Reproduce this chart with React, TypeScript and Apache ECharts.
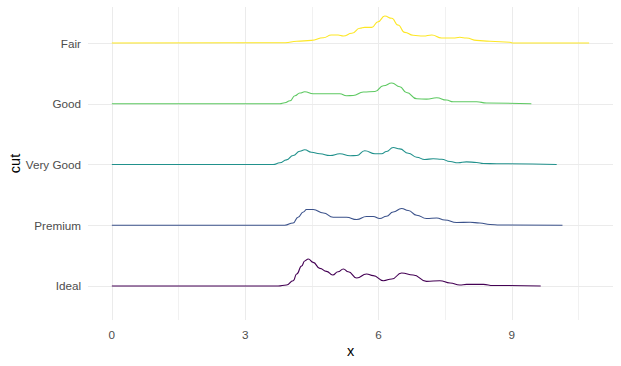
import React, { useEffect, useRef } from "react";
import * as echarts from "echarts";

// Categories from bottom (1) to top (5)
const cuts = ["Ideal", "Premium", "Very Good", "Good", "Fair"];
const colors = ["#440154", "#3B528B", "#21918C", "#5EC962", "#FDE725"];

// Ridge outlines: x values and ridge heights (in category-spacing units)
const idealX = [0, 3.74, 3.93, 4.08, 4.16, 4.27, 4.34, 4.42, 4.53, 4.68, 4.83, 4.97, 5.09, 5.21, 5.32, 5.51, 5.73, 5.88, 6.11, 6.3, 6.52, 6.78, 7.08, 7.38, 7.61, 7.83, 7.98, 8.36, 8.58, 8.73, 9.65];
const idealH = [0, 0, 0.016, 0.087, 0.198, 0.329, 0.412, 0.444, 0.389, 0.29, 0.24, 0.181, 0.235, 0.28, 0.235, 0.132, 0.198, 0.17, 0.087, 0.115, 0.214, 0.181, 0.076, 0.087, 0.049, 0.016, 0.026, 0.026, 0.008, 0.008, 0];

const premiumX = [0, 3.89, 4.08, 4.19, 4.31, 4.38, 4.53, 4.76, 4.98, 5.28, 5.51, 5.73, 5.88, 6.03, 6.18, 6.33, 6.52, 6.67, 6.86, 7.08, 7.31, 7.49, 7.76, 8.06, 8.28, 8.51, 8.73, 10.14];
const premiumH = [0, 0, 0.038, 0.132, 0.219, 0.258, 0.258, 0.202, 0.132, 0.132, 0.094, 0.143, 0.143, 0.11, 0.148, 0.219, 0.275, 0.242, 0.165, 0.11, 0.12, 0.087, 0.044, 0.049, 0.038, 0.012, 0.005, 0];

const veryGoodX = [0, 3.63, 3.78, 3.93, 4.08, 4.23, 4.34, 4.49, 4.68, 4.91, 5.13, 5.36, 5.51, 5.69, 5.92, 6.07, 6.18, 6.33, 6.48, 6.67, 6.86, 7.04, 7.23, 7.42, 7.61, 7.79, 7.98, 8.21, 8.36, 8.66, 10.01];
const veryGoodH = [0, 0, 0.028, 0.077, 0.148, 0.219, 0.242, 0.202, 0.176, 0.148, 0.176, 0.143, 0.148, 0.226, 0.176, 0.176, 0.214, 0.28, 0.258, 0.186, 0.12, 0.082, 0.094, 0.087, 0.049, 0.028, 0.044, 0.033, 0.016, 0.012, 0];

const goodX = [0, 3.78, 3.89, 4.01, 4.12, 4.23, 4.34, 4.53, 5.13, 5.28, 5.43, 5.66, 5.92, 6.11, 6.3, 6.48, 6.63, 6.86, 7.08, 7.31, 7.53, 7.68, 8.21, 8.43, 9.44];
const goodH = [0, 0, 0.016, 0.049, 0.132, 0.176, 0.198, 0.165, 0.165, 0.132, 0.137, 0.193, 0.202, 0.296, 0.341, 0.28, 0.186, 0.082, 0.077, 0.099, 0.061, 0.033, 0.033, 0.012, 0];

const fairX = [0, 3.9, 4.16, 4.49, 4.76, 4.94, 5.09, 5.21, 5.4, 5.58, 5.69, 5.85, 5.99, 6.14, 6.3, 6.44, 6.59, 6.78, 7.01, 7.2, 7.42, 7.68, 7.83, 7.98, 8.21, 8.51, 8.96, 9.03, 10.74];
const fairH = [0, 0.005, 0.028, 0.044, 0.087, 0.132, 0.132, 0.115, 0.16, 0.242, 0.258, 0.258, 0.351, 0.444, 0.407, 0.296, 0.176, 0.127, 0.115, 0.132, 0.082, 0.082, 0.094, 0.082, 0.044, 0.028, 0.012, 0, 0];

const ridgeXs = [idealX, premiumX, veryGoodX, goodX, fairX];
const ridgeHs = [idealH, premiumH, veryGoodH, goodH, fairH];

const xMajorTicks = [0, 3, 6, 9];
const xMinorTicks = [1.5, 4.5, 7.5, 10.5];

export default function App() {
  const ref = useRef<HTMLDivElement>(null);
  useEffect(() => {
    if (!ref.current) return;
    const chart = echarts.init(ref.current, undefined, { renderer: "svg" });
    const font = "'Liberation Sans', Arial, sans-serif";
    const gridColor = "#EBEBEB";

    const ridgeSeries = cuts.map((name, i) => ({
      type: "line",
      name,
      data: ridgeXs[i].map((x, j) => [x, i + 1 + ridgeHs[i][j]]),
      showSymbol: false,
      symbol: "none",
      smooth: 0.5,
      smoothMonotone: "x",
      lineStyle: { color: colors[i], width: 1.1 },
      z: 10,
      silent: true,
    }));

    const gridSeries = {
      type: "line",
      data: [],
      silent: true,
      z: 1,
      markLine: {
        silent: true,
        z: 1,
        symbol: ["none", "none"],
        label: { show: false },
        animation: false,
        data: [
          ...xMajorTicks.map((v) => ({ xAxis: v, lineStyle: { color: gridColor, width: 1, type: "solid" } })),
          ...xMinorTicks.map((v) => ({ xAxis: v, lineStyle: { color: gridColor, width: 0.7, type: "solid" } })),
          ...cuts.map((_, i) => ({ yAxis: i + 1, lineStyle: { color: gridColor, width: 1, type: "solid" } })),
        ],
      },
    };

    chart.setOption({
      animation: false,
      grid: { left: 88, right: 8, top: 7, bottom: 46, containLabel: false, outerBoundsMode: "none" },
      xAxis: {
        type: "value",
        min: -0.537,
        max: 11.277,
        name: "x",
        nameLocation: "middle",
        nameGap: 23,
        nameMoveOverlap: false,
        nameTextStyle: { color: "#000", fontSize: 14.5, fontFamily: font },
        axisLine: { show: false },
        axisTick: { show: false, customValues: xMajorTicks },
        splitLine: { show: false },
        axisLabel: {
          customValues: xMajorTicks,
          color: "#4D4D4D",
          fontSize: 11.7,
          fontFamily: font,
          margin: 8,
        },
      },
      yAxis: {
        type: "value",
        min: 0.44,
        max: 5.593,
        name: "cut",
        nameLocation: "middle",
        nameRotate: 90,
        nameGap: 66,
        nameMoveOverlap: false,
        nameTextStyle: { color: "#000", fontSize: 14.5, fontFamily: font },
        axisLine: { show: false },
        axisTick: { show: false, customValues: [1, 2, 3, 4, 5] },
        splitLine: { show: false },
        axisLabel: {
          customValues: [1, 2, 3, 4, 5],
          formatter: (v: number) => cuts[Math.round(v) - 1] ?? "",
          color: "#4D4D4D",
          fontSize: 11.7,
          fontFamily: font,
          margin: 7,
        },
      },
      series: [gridSeries, ...ridgeSeries],
    });
    return () => chart.dispose();
  }, []);
  return <div ref={ref} style={{ width: 621, height: 366, position: "absolute", left: 0, top: 0 }} />;
}
